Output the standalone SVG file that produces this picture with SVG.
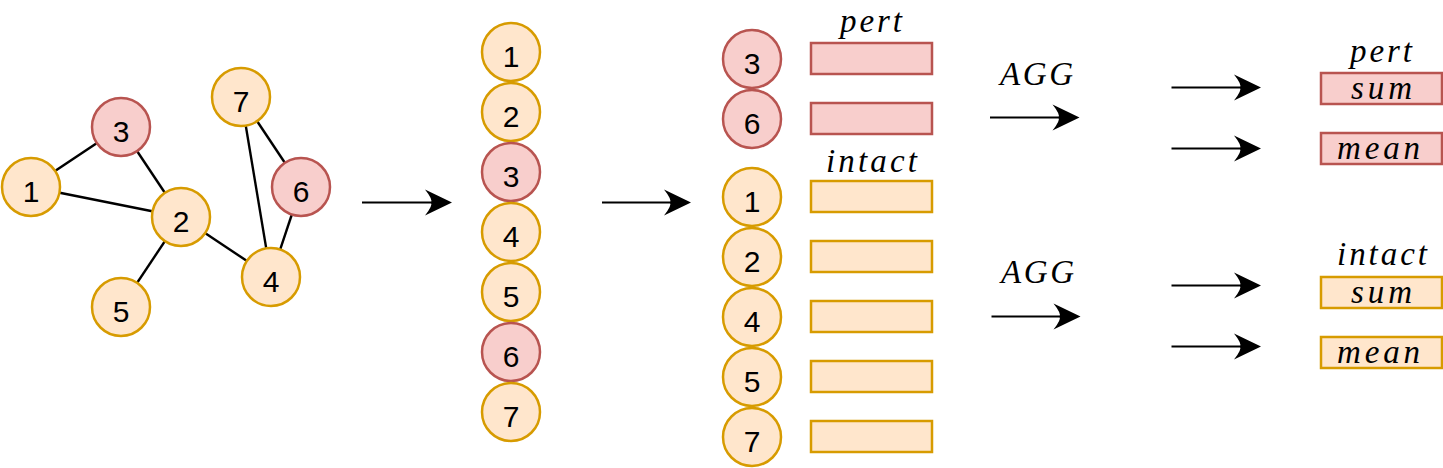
<svg xmlns="http://www.w3.org/2000/svg" xmlns:xlink="http://www.w3.org/1999/xlink" width="1443" height="468" viewBox="0 0 1443 468">
<style>
.y{fill:#ffe6cc;stroke:#d79b00;stroke-width:2.5}
.r{fill:#f8cecc;stroke:#b85450;stroke-width:2.5}
.n{font-family:"Liberation Sans",Arial,sans-serif;font-size:30px;text-anchor:middle;fill:#000}
.m{font-family:"Liberation Serif","Times New Roman",serif;font-style:italic;font-size:33px;fill:#000}
.e{stroke:#000;stroke-width:2.4;fill:none}
.s{stroke:#000;stroke-width:2.2;fill:none}
.h{fill:#000;stroke:none}
</style>
<defs>
<path id="ah" d="M0,0 L-27,-13 Q-19,-3 -21,0 Q-19,3 -27,13 Z"/>
</defs>
<g id="edges">
<line class="e" x1="31" y1="187" x2="121" y2="127"/>
<line class="e" x1="31" y1="187" x2="181" y2="217"/>
<line class="e" x1="121" y1="127" x2="181" y2="217"/>
<line class="e" x1="181" y1="217" x2="121" y2="307"/>
<line class="e" x1="181" y1="217" x2="271" y2="277"/>
<line class="e" x1="241" y1="97" x2="271" y2="277"/>
<line class="e" x1="241" y1="97" x2="301" y2="187"/>
<line class="e" x1="301" y1="187" x2="271" y2="277"/>
</g>
<g id="graph-nodes">
<g id="g1"><circle class="y" cx="31" cy="187" r="29"/><text class="n" x="31" y="202">1</text></g>
<g id="g3"><circle class="r" cx="121" cy="127" r="29"/><text class="n" x="121" y="142">3</text></g>
<g id="g2"><circle class="y" cx="181" cy="217" r="29"/><text class="n" x="181" y="232">2</text></g>
<g id="g7"><circle class="y" cx="241" cy="97" r="29"/><text class="n" x="241" y="112">7</text></g>
<g id="g6"><circle class="r" cx="301" cy="187" r="29"/><text class="n" x="301" y="202">6</text></g>
<g id="g4"><circle class="y" cx="271" cy="277" r="29"/><text class="n" x="271" y="292">4</text></g>
<g id="g5"><circle class="y" cx="121" cy="307" r="29"/><text class="n" x="121" y="322">5</text></g>
</g>
<g id="list-nodes">
<g id="l1"><circle class="y" cx="511" cy="52" r="29"/><text class="n" x="511" y="67">1</text></g>
<g id="l2"><circle class="y" cx="511" cy="112" r="29"/><text class="n" x="511" y="127">2</text></g>
<g id="l3"><circle class="r" cx="511" cy="172" r="29"/><text class="n" x="511" y="187">3</text></g>
<g id="l4"><circle class="y" cx="511" cy="232" r="29"/><text class="n" x="511" y="247">4</text></g>
<g id="l5"><circle class="y" cx="511" cy="292" r="29"/><text class="n" x="511" y="307">5</text></g>
<g id="l6"><circle class="r" cx="511" cy="352" r="29"/><text class="n" x="511" y="367">6</text></g>
<g id="l7"><circle class="y" cx="511" cy="412" r="29"/><text class="n" x="511" y="427">7</text></g>
</g>
<g id="split-nodes">
<g id="s3"><circle class="r" cx="752" cy="59" r="29"/><text class="n" x="752" y="74">3</text></g>
<g id="s6"><circle class="r" cx="752" cy="119" r="29"/><text class="n" x="752" y="134">6</text></g>
<g id="s1"><circle class="y" cx="752" cy="197" r="29"/><text class="n" x="752" y="212">1</text></g>
<g id="s2"><circle class="y" cx="752" cy="257" r="29"/><text class="n" x="752" y="272">2</text></g>
<g id="s4"><circle class="y" cx="752" cy="317" r="29"/><text class="n" x="752" y="332">4</text></g>
<g id="s5"><circle class="y" cx="752" cy="377" r="29"/><text class="n" x="752" y="392">5</text></g>
<g id="s7"><circle class="y" cx="752" cy="437" r="29"/><text class="n" x="752" y="452">7</text></g>
</g>
<g id="feature-boxes">
<text class="m" x="840" y="31.5" textLength="62" lengthAdjust="spacing">pert</text>
<rect id="b3" class="r" x="811" y="43" width="121" height="31"/>
<rect id="b6" class="r" x="811" y="103" width="121" height="31"/>
<text class="m" x="826" y="171.5" textLength="91" lengthAdjust="spacing">intact</text>
<rect id="b1" class="y" x="811" y="181" width="121" height="31"/>
<rect id="b2" class="y" x="811" y="241" width="121" height="31"/>
<rect id="b4" class="y" x="811" y="301" width="121" height="31"/>
<rect id="b5" class="y" x="811" y="361" width="121" height="31"/>
<rect id="b7" class="y" x="811" y="421" width="121" height="31"/>
</g>
<g id="agg-labels">
<text class="m" x="1000" y="84.5" textLength="73" lengthAdjust="spacing">AGG</text>
<text class="m" x="1001" y="283" textLength="73" lengthAdjust="spacing">AGG</text>
</g>
<g id="outputs">
<text class="m" x="1350" y="61.5" textLength="62" lengthAdjust="spacing">pert</text>
<g id="o-pert-sum"><rect class="r" x="1321" y="73" width="121" height="31"/><text class="m" x="1351" y="98.5" textLength="61" lengthAdjust="spacing">sum</text></g>
<g id="o-pert-mean"><rect class="r" x="1321" y="133" width="121" height="31"/><text class="m" x="1337" y="158.5" textLength="83" lengthAdjust="spacing">mean</text></g>
<text class="m" x="1337" y="265" textLength="90" lengthAdjust="spacing">intact</text>
<g id="o-intact-sum"><rect class="y" x="1321" y="277" width="121" height="31"/><text class="m" x="1351" y="303" textLength="61" lengthAdjust="spacing">sum</text></g>
<g id="o-intact-mean"><rect class="y" x="1321" y="337" width="121" height="31"/><text class="m" x="1337" y="363" textLength="83" lengthAdjust="spacing">mean</text></g>
</g>
<g id="connectors">
<line class="s" x1="362" y1="202.5" x2="432" y2="202.5"/><use xlink:href="#ah" class="h" transform="translate(452,202.5)"/>
<line class="s" x1="602" y1="202.5" x2="671" y2="202.5"/><use xlink:href="#ah" class="h" transform="translate(691,202.5)"/>
<line class="s" x1="990" y1="117.5" x2="1059" y2="117.5"/><use xlink:href="#ah" class="h" transform="translate(1079.5,117.5)"/>
<line class="s" x1="991.5" y1="316.5" x2="1060" y2="316.5"/><use xlink:href="#ah" class="h" transform="translate(1080.5,316.5)"/>
<line class="s" x1="1171.5" y1="87.5" x2="1241" y2="87.5"/><use xlink:href="#ah" class="h" transform="translate(1261,87.5)"/>
<line class="s" x1="1171.5" y1="148.5" x2="1241" y2="148.5"/><use xlink:href="#ah" class="h" transform="translate(1261,148.5)"/>
<line class="s" x1="1171.5" y1="285.5" x2="1241" y2="285.5"/><use xlink:href="#ah" class="h" transform="translate(1261,285.5)"/>
<line class="s" x1="1171.5" y1="346.5" x2="1241" y2="346.5"/><use xlink:href="#ah" class="h" transform="translate(1261,346.5)"/>
</g>
</svg>
